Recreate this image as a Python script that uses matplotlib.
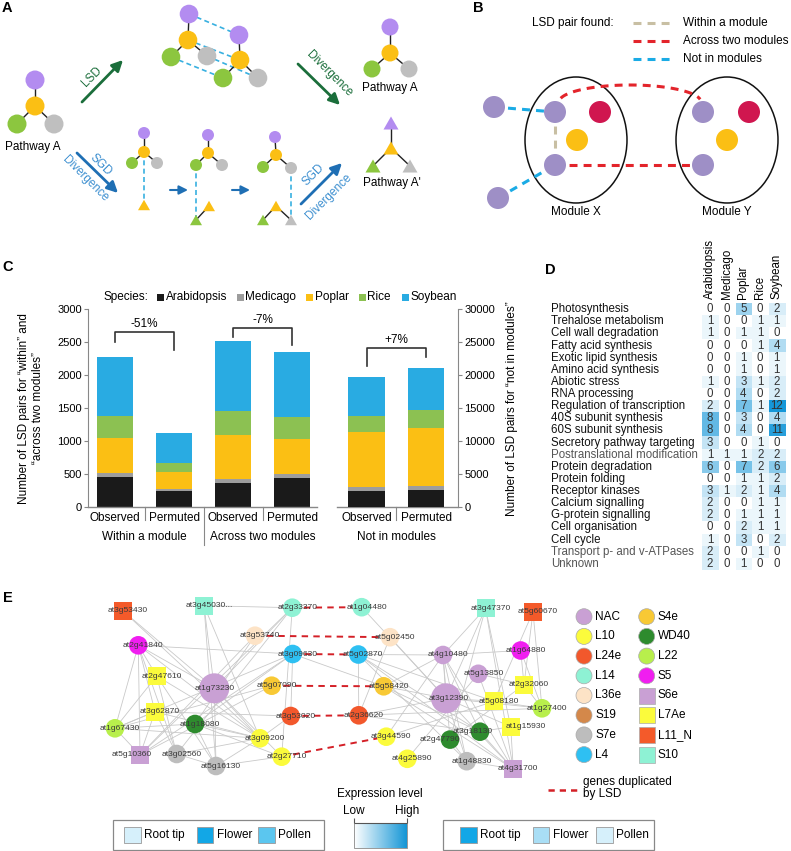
import numpy as np
import matplotlib
matplotlib.use('Agg')
import matplotlib.pyplot as plt
from matplotlib.patches import Circle, Ellipse, Rectangle, Polygon, FancyArrowPatch
from matplotlib.colors import LinearSegmentedColormap
import matplotlib.transforms as mtrans

plt.rcParams['font.family'] = ['Liberation Sans', 'DejaVu Sans']

# ---------------- data: panel C ----------------
species = ['Arabidopsis', 'Medicago', 'Poplar', 'Rice', 'Soybean']
species_colors = ['#1a1a1a', '#9d9d9d', '#fbbf14', '#8cc152', '#29abe2']
bar_labels = ['Observed', 'Permuted']
groups = ['Within a module', 'Across two modules', 'Not in modules']
within_obs = [465, 50, 535, 334, 889]
within_perm = [253, 25, 252, 137, 459]
across_obs = [364, 65, 667, 364, 1060]
across_perm = [450, 55, 530, 339, 974]
notin_obs = [2525, 505, 8435, 2373, 5909]
notin_perm = [2626, 606, 8838, 2627, 6414]
pct_labels = ['-51%', '-7%', '+7%']

# ---------------- data: panel D ----------------
pathways = ['Photosynthesis', 'Trehalose metabolism', 'Cell wall degradation',
            'Fatty acid synthesis', 'Exotic lipid synthesis', 'Amino acid synthesis',
            'Abiotic stress', 'RNA processing', 'Regulation of transcription',
            '40S subunit synthesis', '60S subunit synthesis', 'Secretory pathway targeting',
            'Postranslational modification', 'Protein degradation', 'Protein folding',
            'Receptor kinases', 'Calcium signalling', 'G-protein signalling',
            'Cell organisation', 'Cell cycle', 'Transport p- and v-ATPases', 'Unknown']
heat_arab = [0, 1, 1, 0, 0, 0, 1, 0, 2, 8, 8, 3, 1, 6, 0, 3, 2, 2, 0, 1, 2, 2]
heat_medi = [0, 0, 0, 0, 0, 0, 0, 0, 0, 0, 0, 0, 1, 0, 0, 1, 0, 0, 0, 0, 0, 0]
heat_popl = [5, 0, 1, 0, 1, 1, 3, 4, 7, 3, 4, 0, 1, 7, 1, 2, 0, 1, 2, 3, 0, 1]
heat_rice = [0, 1, 1, 1, 0, 0, 1, 0, 1, 0, 0, 1, 2, 2, 1, 1, 1, 1, 1, 0, 1, 0]
heat_soyb = [2, 1, 0, 4, 1, 1, 2, 2, 12, 4, 11, 0, 2, 6, 2, 4, 1, 1, 1, 2, 0, 0]
gray_rows = ['Postranslational modification', 'Transport p- and v-ATPases', 'Unknown']

# ---------------- data: panel E network ----------------
node_names = ['at3g53430', 'at3g45030...', 'at2g33370', 'at1g04480', 'at3g53740', 'at5g02450',
              'at2g41840', 'at3g09630', 'at5g02870', 'at2g47610', 'at1g73230', 'at5g07090',
              'at5g58420', 'at3g62870', 'at1g67430', 'at1g18080', 'at3g53020', 'at2g36620',
              'at3g09200', 'at3g44590', 'at5g10360', 'at3g02560', 'at5g16130', 'at2g27710',
              'at3g47370', 'at5g60670', 'at4g10480', 'at1g64880', 'at5g13850', 'at2g32060',
              'at3g12390', 'at5g08180', 'at1g27400', 'at3g18130', 'at1g15930', 'at2g47790',
              'at4g25890', 'at1g48830', 'at4g31700']
node_types = ['L11_N', 'S10', 'L14', 'L14', 'L36e', 'L36e',
              'S5', 'L4', 'L4', 'L7Ae', 'NAC', 'S4e',
              'S4e', 'L7Ae', 'L22', 'WD40', 'L24e', 'L24e',
              'L10', 'L10', 'S6e', 'S7e', 'S7e', 'L10',
              'S10', 'L11_N', 'NAC', 'S5', 'NAC', 'L7Ae',
              'NAC', 'L7Ae', 'L22', 'WD40', 'L7Ae', 'WD40',
              'L10', 'S7e', 'S6e']
lsd_pairs = [('at2g33370', 'at1g04480'), ('at3g53740', 'at5g02450'),
             ('at3g09630', 'at5g02870'), ('at5g07090', 'at5g58420'),
             ('at3g53020', 'at2g36620'), ('at2g27710', 'at3g44590')]
edges = [
    ('at3g53430', 'at1g73230'), ('at3g53430', 'at3g09200'), ('at3g45030...', 'at1g73230'),
    ('at3g45030...', 'at2g33370'), ('at3g45030...', 'at5g16130'), ('at3g45030...', 'at3g09200'),
    ('at2g33370', 'at1g73230'), ('at2g33370', 'at3g02560'), ('at2g33370', 'at5g10360'),
    ('at2g33370', 'at2g27710'), ('at3g53740', 'at5g10360'), ('at3g53740', 'at1g18080'),
    ('at2g41840', 'at3g09630'), ('at2g41840', 'at2g47610'), ('at2g41840', 'at3g62870'),
    ('at2g41840', 'at1g67430'), ('at2g41840', 'at5g10360'), ('at2g41840', 'at3g02560'),
    ('at2g41840', 'at1g73230'), ('at2g41840', 'at3g09200'), ('at3g09630', 'at5g10360'),
    ('at3g09630', 'at1g18080'), ('at3g09630', 'at3g53020'), ('at3g09630', 'at1g67430'),
    ('at2g47610', 'at3g02560'), ('at2g47610', 'at5g16130'), ('at2g47610', 'at1g67430'),
    ('at2g47610', 'at3g09200'), ('at1g73230', 'at3g09200'), ('at1g73230', 'at2g27710'),
    ('at1g73230', 'at5g16130'), ('at5g07090', 'at1g67430'), ('at5g07090', 'at5g10360'),
    ('at3g62870', 'at3g53020'), ('at3g62870', 'at1g67430'), ('at3g62870', 'at3g02560'),
    ('at3g62870', 'at5g10360'), ('at3g62870', 'at3g09200'), ('at1g67430', 'at1g18080'),
    ('at1g67430', 'at5g10360'), ('at1g67430', 'at3g09200'), ('at1g18080', 'at3g09200'),
    ('at1g18080', 'at5g16130'), ('at1g18080', 'at2g27710'), ('at3g09200', 'at3g53020'),
    ('at3g09200', 'at5g16130'), ('at3g09200', 'at3g02560'), ('at5g16130', 'at2g27710'),
    ('at3g02560', 'at5g16130'),
    ('at1g04480', 'at3g12390'), ('at5g02450', 'at3g12390'), ('at5g02450', 'at2g36620'),
    ('at5g02870', 'at4g10480'), ('at5g02870', 'at2g36620'), ('at5g02870', 'at3g18130'),
    ('at5g02870', 'at5g08180'), ('at5g02870', 'at1g48830'), ('at5g58420', 'at3g12390'),
    ('at5g58420', 'at3g18130'), ('at5g58420', 'at4g31700'), ('at5g58420', 'at4g10480'),
    ('at2g36620', 'at3g12390'), ('at2g36620', 'at1g27400'), ('at2g36620', 'at3g18130'),
    ('at3g44590', 'at4g10480'), ('at3g44590', 'at5g08180'), ('at4g25890', 'at5g13850'),
    ('at3g47370', 'at4g10480'), ('at3g47370', 'at3g12390'), ('at3g47370', 'at1g15930'),
    ('at3g47370', 'at4g31700'), ('at3g47370', 'at2g47790'), ('at5g60670', 'at5g08180'),
    ('at5g60670', 'at1g27400'), ('at5g60670', 'at2g32060'), ('at4g10480', 'at1g64880'),
    ('at4g10480', 'at3g12390'), ('at4g10480', 'at3g18130'), ('at4g10480', 'at4g31700'),
    ('at4g10480', 'at1g48830'), ('at4g10480', 'at2g47790'), ('at1g64880', 'at2g32060'),
    ('at1g64880', 'at1g27400'), ('at5g13850', 'at2g32060'), ('at5g13850', 'at4g31700'),
    ('at3g12390', 'at5g08180'), ('at3g12390', 'at1g27400'), ('at3g12390', 'at1g15930'),
    ('at3g12390', 'at4g31700'), ('at3g12390', 'at1g48830'), ('at2g32060', 'at1g27400'),
    ('at2g32060', 'at2g47790'), ('at5g08180', 'at1g27400'), ('at3g18130', 'at4g31700'),
    ('at1g15930', 'at4g31700'), ('at2g47790', 'at1g48830'), ('at1g48830', 'at4g31700'),
    ('at3g18130', 'at1g15930'), ('at3g09630', 'at5g58420'), ('at5g02870', 'at4g31700')]
legend_col1 = ['NAC', 'L10', 'L24e', 'L14', 'L36e', 'S19', 'S7e', 'L4']
legend_col2 = ['S4e', 'WD40', 'L22', 'S5', 'S6e', 'L7Ae', 'L11_N', 'S10']
tissues = ['Root tip', 'Flower', 'Pollen']
tissue_left_colors = ['#d6f0fb', '#12a7e6', '#5bc6ef']
tissue_right_colors = ['#12a7e6', '#a9def5', '#d6f0fb']

# ---------------- layout (pixel coordinates) ----------------
node_xy = {
    'at3g53430': (122.7, 610.7), 'at3g45030...': (204, 605.7), 'at2g33370': (292.3, 607.7),
    'at1g04480': (361.7, 607.2), 'at3g53740': (255, 635.7), 'at5g02450': (390, 637.2),
    'at2g41840': (138.3, 645.3), 'at3g09630': (292.7, 654), 'at5g02870': (358.3, 654.5),
    'at2g47610': (156.7, 676), 'at1g73230': (214.3, 688.3), 'at5g07090': (271.7, 685.7),
    'at5g58420': (383.7, 686.3), 'at3g62870': (155, 711.7), 'at1g67430': (115, 728.3),
    'at1g18080': (195, 724), 'at3g53020': (290.7, 716), 'at2g36620': (358.8, 715.3),
    'at3g09200': (260, 738.3), 'at3g44590': (386.3, 736.7), 'at5g10360': (140, 755),
    'at3g02560': (176.7, 754), 'at5g16130': (216, 766), 'at2g27710': (281.7, 756.7),
    'at3g47370': (485.5, 608.3), 'at5g60670': (533, 611.7), 'at4g10480': (443, 655),
    'at1g64880': (520.7, 650.5), 'at5g13850': (478.3, 673.8), 'at2g32060': (524, 684.7),
    'at3g12390': (446, 698.3), 'at5g08180': (494, 701.3), 'at1g27400': (542, 708.3),
    'at3g18130': (480, 731.7), 'at1g15930': (510.7, 726.7), 'at2g47790': (450, 739.6),
    'at4g25890': (407.3, 758.8), 'at1g48830': (466.7, 761.2), 'at4g31700': (513.3, 769)}
label_dx = {'at1g73230': 0, 'at3g12390': 2.5, 'at3g18130': -7, 'at1g15930': 15,
            'at2g47790': -10, 'at5g10360': -8}
node_radius = {'at1g73230': 15, 'at3g12390': 15}
type_color = {'NAC': '#c9a0d4', 'L10': '#fbfb3c', 'L24e': '#f2582c', 'L14': '#8ef2d4',
              'L36e': '#fde3c6', 'S19': '#d4884a', 'S7e': '#bdbdbd', 'L4': '#2ec0f2',
              'S4e': '#f8c935', 'WD40': '#2e8b2e', 'L22': '#b8ef4c', 'S5': '#f01ef0',
              'S6e': '#c9a0d4', 'L7Ae': '#fbfb3c', 'L11_N': '#f45a2a', 'S10': '#8ef2d4'}
square_types = {'S6e', 'L7Ae', 'L11_N', 'S10'}

W, H = 791, 851
fig = plt.figure(figsize=(W / 100, H / 100), dpi=100)
ov = fig.add_axes([0, 0, 1, 1])
ov.set_xlim(0, W)
ov.set_ylim(H, 0)
ov.set_autoscale_on(False)
ov.axis('off')

FS = 8.5


def circ(x, y, r, c, z=3, ec='none', lw=0):
    ov.add_patch(Circle((x, y), r, fc=c, ec=ec, lw=lw, zorder=z))


def tri(x, y, w, c, z=3):
    h = w * 0.87
    ov.add_patch(Polygon([(x - w / 2, y + h / 2), (x + w / 2, y + h / 2), (x, y - h / 2)],
                         closed=True, fc=c, ec='none', zorder=z))


def seg(p, q, c='#222222', lw=1.0, ls='-', z=2):
    ov.plot([p[0], q[0]], [p[1], q[1]], color=c, lw=lw, ls=ls, zorder=z, solid_capstyle='butt')


def arrow(p, q, c, lw=2.0, ms=16):
    ov.add_patch(FancyArrowPatch(p, q, arrowstyle='-|>', mutation_scale=ms, lw=lw,
                                 color=c, shrinkA=0, shrinkB=0, zorder=4))


# panel letters
for lab, (lx, ly) in zip('ABCDE', [(2, 8), (473, 8), (2, 267), (545, 270), (3, 598)]):
    ov.text(lx, ly, lab, fontsize=10.5, fontweight='bold', ha='left', va='center')

# ---------------- Panel A ----------------
PUR_A, YEL, GRN, GRY = '#b38cf0', '#fbbf14', '#8cc63f', '#bfbfbf'
BLUE_D = '#38b0e0'
DG = '#1b6e3b'
BL = '#1f6fb4'
BLT = '#3d8fd0'


def pathway(P, Y, G, R, r):
    for q in (P, G, R):
        seg(Y, q)
    for q, c in zip((P, Y, G, R), (PUR_A, YEL, GRN, GRY)):
        circ(q[0], q[1], r, c)


pathway((35, 80), (35, 106), (17, 124), (54, 124), 9.5)
ov.text(33, 147, 'Pathway A', fontsize=FS, ha='center', va='center')
c1 = [(189, 14), (188, 40), (171, 57), (207, 56)]
c2 = [(239, 35), (240, 60), (223, 78), (258, 78)]
for a, b in zip(c1, c2):
    seg(a, b, c=BLUE_D, lw=1.2, ls=(0, (3, 2)), z=1)
pathway(*c1, 9.3)
pathway(*c2, 9.3)
pathway((390, 27), (390, 53), (372, 69), (409, 69), 8.5)
ov.text(390, 88, 'Pathway A', fontsize=FS, ha='center', va='center')

arrow((82, 102), (123, 60), DG)
ov.text(92, 77, 'LSD', color=DG, fontsize=FS, rotation=45, ha='center', va='center')
arrow((298, 64), (340, 105), DG)
ov.text(329, 74, 'Divergence', color=DG, fontsize=FS, rotation=-45, ha='center', va='center')

arrow((77, 153), (118, 193), BL)
ov.text(101, 165, 'SGD', color=BLT, fontsize=FS, rotation=-45, ha='center', va='center')
ov.text(85, 179, 'Divergence', color=BLT, fontsize=FS, rotation=-45, ha='center', va='center')
arrow((301, 204), (342, 163), BL)
ov.text(313, 175, 'SGD', color=BLT, fontsize=FS, rotation=45, ha='center', va='center')
ov.text(329, 197, 'Divergence', color=BLT, fontsize=FS, rotation=45, ha='center', va='center')
arrow((170, 190), (188, 190), BL, lw=1.5, ms=13)
arrow((232, 190), (250, 190), BL, lw=1.5, ms=13)

# stage 1
pathway((144, 133), (144, 152), (132, 163), (157, 163), 6)
seg((144, 152), (144, 205), c=BLUE_D, lw=1.2, ls=(0, (3, 2)), z=1)
tri(144, 205, 12, YEL)
# stage 2
pathway((208, 135), (208, 153), (196, 165), (222, 165), 6)
seg((196, 165), (196, 220), c=BLUE_D, lw=1.2, ls=(0, (3, 2)), z=1)
seg((209, 206), (196, 220))
tri(209, 206, 12, YEL)
tri(196, 220, 12, GRN)
# stage 3
pathway((275, 137), (276, 155), (263, 167), (291, 168), 6)
seg((291, 168), (291, 220), c=BLUE_D, lw=1.2, ls=(0, (3, 2)), z=1)
seg((276, 206), (263, 220))
seg((276, 206), (291, 220))
tri(276, 206, 12, YEL)
tri(263, 220, 12, GRN)
tri(291, 220, 12, GRY)
# pathway A'
for q in ((391, 123), (373, 166), (410, 166)):
    seg((391, 148), q)
tri(391, 123, 15, PUR_A)
tri(391, 148, 15, YEL)
tri(373, 166, 15, GRN)
tri(410, 166, 15, GRY)
ov.text(392, 183, "Pathway A'", fontsize=FS, ha='center', va='center')

# ---------------- Panel B ----------------
PUR_B, CRIM = '#9e8fc6', '#d0164f'
ov.text(532, 23, 'LSD pair found:', fontsize=FS, ha='left', va='center')
for yy, c, t in zip([22.7, 40.7, 59.3], ['#c8bfa3', '#e3242b', '#1aabe5'],
                    ['Within a module', 'Across two modules', 'Not in modules']):
    seg((633, yy), (673, yy), c=c, lw=2.2, ls=(0, (2.6, 2)))
    ov.text(683, yy, t, fontsize=FS, ha='left', va='center')
for cx, lab in [(576, 'Module X'), (727, 'Module Y')]:
    ov.add_patch(Ellipse((cx, 140), 102, 126, fc='none', ec='#111111', lw=1.1, zorder=2))
    ov.text(cx, 212, lab, fontsize=FS, ha='center', va='center')
seg((494, 107), (555, 112), c='#1aabe5', lw=2.2, ls=(0, (2.6, 2)))
seg((498, 198), (555, 165), c='#1aabe5', lw=2.2, ls=(0, (2.6, 2)))
seg((555, 112), (555, 165), c='#c8bfa3', lw=2.2, ls=(0, (2.6, 2)))
seg((555, 165), (703, 165), c='#e3242b', lw=2.2, ls=(0, (2.6, 2)))
th = np.linspace(np.pi * 0.93, np.pi * 0.05, 60)
ov.plot(630 + 71 * np.cos(th), 102 - 17 * np.sin(th), color='#e3242b', lw=2.2,
        ls=(0, (2.6, 2)), zorder=2)
for (x, y) in [(555, 112), (555, 165), (703, 112), (703, 165), (494, 107), (498, 198)]:
    circ(x, y, 11, PUR_B)
circ(600, 112, 11, CRIM)
circ(749, 112, 11, CRIM)
circ(577, 140, 11, YEL)
circ(727, 140, 11, YEL)

# ---------------- Panel C ----------------
cl, cr, cb, ct = 88, 458, 507.3, 309.3
ax = fig.add_axes([cl / W, 1 - cb / H, (cr - cl) / W, (cb - ct) / H])
ax.patch.set_alpha(0)
ax2 = ax.twinx()
ax2.patch.set_alpha(0)
bar_pos = np.array([0, 1, 2, 3, 4.26, 5.27])
bw = 0.61
left_sets = [within_obs, within_perm, across_obs, across_perm]
right_sets = [notin_obs, notin_perm]
for i, vals in enumerate(left_sets):
    bottom = 0
    for v, c in zip(vals, species_colors):
        ax.bar(bar_pos[i], v, bw, bottom=bottom, color=c, edgecolor='none')
        bottom += v
for k, vals in enumerate(right_sets):
    bottom = 0
    for v, c in zip(vals, species_colors):
        ax2.bar(bar_pos[4 + k], v, bw, bottom=bottom, color=c, edgecolor='none')
        bottom += v
xmin, xmax = -0.458, 5.81
ax.set_xlim(xmin, xmax)
ax.set_ylim(0, 3000)
ax2.set_ylim(0, 30000)
ax.set_yticks(np.arange(0, 3001, 500))
ax2.set_yticks(np.arange(0, 30001, 5000))
ax.set_xticks([])
for a in (ax, ax2):
    for s in a.spines.values():
        s.set_visible(False)
    a.tick_params(axis='y', direction='out', length=3, color='#888888', labelsize=8, pad=1.5)
ax.spines['left'].set_visible(True)
ax.spines['left'].set_color('#888888')
ax2.spines['right'].set_visible(True)
ax2.spines['right'].set_color('#888888')
ax.plot([xmin, 3.42], [0, 0], color='#888888', lw=1, clip_on=False)
ax.plot([3.76, xmax], [0, 0], color='#888888', lw=1, clip_on=False)
tr_xa = mtrans.blended_transform_factory(ax.transData, ax.transAxes)
seps = [(bar_pos[0] + bar_pos[1]) / 2, (bar_pos[1] + bar_pos[2]) / 2,
        (bar_pos[2] + bar_pos[3]) / 2, (bar_pos[4] + bar_pos[5]) / 2]
sep_len = [-0.065, -0.19, -0.065, -0.065]
for sx, sl in zip(seps, sep_len):
    ax.plot([sx, sx], [0, sl], color='#888888', lw=0.8, transform=tr_xa, clip_on=False)
for i, p in enumerate(bar_pos):
    ax.text(p, -0.054, bar_labels[i % 2], transform=tr_xa, ha='center', va='center', fontsize=FS)
for g in range(3):
    ax.text((bar_pos[2 * g] + bar_pos[2 * g + 1]) / 2, -0.15, groups[g], transform=tr_xa,
            ha='center', va='center', fontsize=FS)
br_top = [2652, 2712, 2409]
br_left = [2510, 2586, 2141]
br_right = [2384, 2455, 2273]
for g in range(3):
    xa, xb = bar_pos[2 * g], bar_pos[2 * g + 1]
    ax.plot([xa, xa, xb, xb], [br_left[g], br_top[g], br_top[g], br_right[g]],
            color='#333333', lw=1.2, clip_on=False)
    ax.text((xa + xb) / 2, br_top[g] + 125, pct_labels[g], ha='center', va='center', fontsize=FS)
ax.text(-0.154, 0.5, 'Number of LSD pairs for \u201cwithin\u201d and\n\u201cacross two modules\u201d',
        transform=ax.transAxes, rotation=90, ha='center', va='center', fontsize=FS,
        multialignment='center')
ax2.text(1.145, 0.5, 'Number of LSD pairs for \u201cnot in modules\u201d', transform=ax2.transAxes,
         rotation=90, ha='center', va='center', fontsize=FS)
# species legend
ov.text(104, 297, 'Species:', fontsize=FS, ha='left', va='center')
for nm, c, lx in zip(species, species_colors, [157, 237, 306, 359, 402]):
    ov.add_patch(Rectangle((lx, 293.5), 7, 7, fc=c, ec='none'))
    ov.text(lx + 8.5, 297, nm, fontsize=FS, ha='left', va='center')

# ---------------- Panel D ----------------
heat = np.array([heat_arab, heat_medi, heat_popl, heat_rice, heat_soyb]).T
heat_cols = species
dl, dr, dt, db = 701.7, 785.2, 303.2, 569.8
axD = fig.add_axes([dl / W, 1 - db / H, (dr - dl) / W, (db - dt) / H])
cmap_h = LinearSegmentedColormap.from_list('hb', ['#ffffff', '#1597d8'])
axD.imshow(heat, cmap=cmap_h, vmin=0, vmax=12, aspect='auto', interpolation='nearest')
axD.axis('off')
for i in range(heat.shape[0]):
    for j in range(heat.shape[1]):
        axD.text(j, i, str(heat[i, j]), ha='center', va='center', fontsize=8.3, color='#333333')
tr_rows = mtrans.blended_transform_factory(ov.transData, axD.transData)
for i, nm in enumerate(pathways):
    axD.text(551, i, nm, transform=tr_rows, ha='left', va='center', fontsize=8.3,
             color='#555555' if nm in gray_rows else '#111111')
tr_cols = mtrans.blended_transform_factory(axD.transData, ov.transData)
for j, nm in enumerate(heat_cols):
    axD.text(j, 299, nm, transform=tr_cols, rotation=90, ha='center', va='bottom', fontsize=8.3)

# ---------------- Panel E ----------------
for a, b in edges:
    seg(node_xy[a], node_xy[b], c='#c9c9c9', lw=0.6, z=1)
for a, b in lsd_pairs:
    seg(node_xy[a], node_xy[b], c='#d42027', lw=1.4, ls=(0, (3.3, 2.7)), z=2)
for nm, tp in zip(node_names, node_types):
    x, y = node_xy[nm]
    c = type_color[tp]
    if tp in square_types:
        ov.add_patch(Rectangle((x - 9, y - 9), 18, 18, fc=c, ec='none', zorder=3))
    else:
        circ(x, y, node_radius.get(nm, 9.3), c, z=3)
    ov.text(x + label_dx.get(nm, 5), y, nm, fontsize=6.1, color='#3a3a3a',
            ha='center', va='center', zorder=5)

for col, lx in [(legend_col1, 584), (legend_col2, 646.7)]:
    for k, tp in enumerate(col):
        ly = 616.7 + k * 19.7
        c = type_color[tp]
        if tp in square_types:
            ov.add_patch(Rectangle((lx - 8, ly - 8), 16, 16, fc=c, ec='#aaaaaa', lw=0.5, zorder=3))
        else:
            circ(lx, ly, 8, c, ec='#aaaaaa', lw=0.5)
        ov.text(lx + 11, ly, tp, fontsize=FS, ha='left', va='center')

seg((548, 789.5), (578, 789.5), c='#d42027', lw=1.8, ls=(0, (2.5, 2)))
ov.text(583, 788, 'genes duplicated\nby LSD', fontsize=FS, ha='left', va='center', linespacing=1.1)

# expression colorbar
ov.text(380, 794, 'Expression level', fontsize=FS, ha='center', va='center')
ov.text(354, 811, 'Low', fontsize=FS, ha='center', va='center')
ov.text(407, 811, 'High', fontsize=FS, ha='center', va='center')
cmap_e = LinearSegmentedColormap.from_list('ex', ['#ffffff', '#1496d6'])
ov.imshow(np.linspace(0, 1, 200)[None, :], cmap=cmap_e, extent=(354, 407, 848, 823),
          aspect='auto', zorder=2)
ov.add_patch(Rectangle((354, 823), 53, 25, fc='none', ec='#888888', lw=0.6, zorder=3))
seg((354, 818), (354, 823), c='#555555', lw=0.8)
seg((407, 818), (407, 823), c='#555555', lw=0.8)
seg((354, 823), (407, 823), c='#555555', lw=0.8, z=4)

# tissue boxes
for bx, cols, sw_x in [(113.3, tissue_left_colors, [124.3, 196.7, 258.3]),
                       (442.7, tissue_right_colors, [460, 532.7, 596])]:
    ov.add_patch(Rectangle((bx, 820), 211, 30, fc='white', ec='#888888', lw=0.9, zorder=2))
    for t, c, sx in zip(tissues, cols, sw_x):
        ov.add_patch(Rectangle((sx, 827), 16.5, 16, fc=c, ec='#999999', lw=0.6, zorder=3))
        ov.text(sx + 20, 835, t, fontsize=FS, ha='left', va='center')

ov.set_xlim(0, W)
ov.set_ylim(H, 0)
fig.savefig('out.png', dpi=100)
